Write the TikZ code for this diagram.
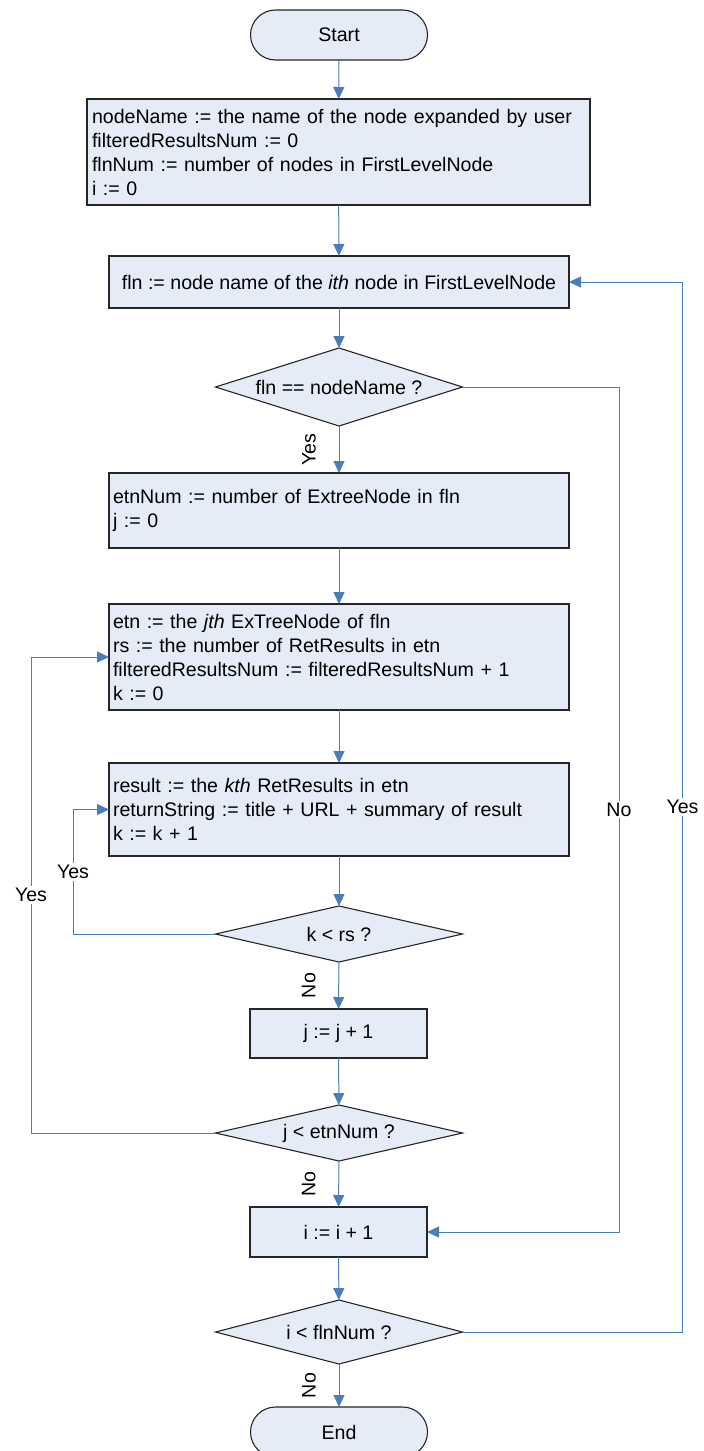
\documentclass[tikz,border=0pt]{standalone}
\usepackage{fontspec}
\setmainfont{Liberation Sans}
\usetikzlibrary{shapes.geometric,arrows.meta}
\definecolor{boxfill}{HTML}{E6ECF7}
\definecolor{flowline}{HTML}{4A7EBB}
\definecolor{edge}{HTML}{262626}
\begin{document}
\begin{tikzpicture}[x=1pt,y=-1pt,
  font=\fontsize{19.6}{24}\selectfont,
  every node/.style={inner sep=0pt, outer sep=0pt},
  shapebase/.style={draw=edge, fill=boxfill, line width=1.1pt},
  term/.style={shapebase, rectangle, rounded corners=25pt, minimum width=177pt, minimum height=50pt},
  proc/.style={shapebase, rectangle},
  smallproc/.style={proc, minimum width=177pt},
  wideproc/.style={proc, minimum width=460pt},
  listproc/.style={proc, minimum width=460pt, text width=452pt, inner xsep=4pt, align=left},
  dec/.style={shapebase, diamond, shape aspect=3.5, minimum width=247pt},
  flow/.style={draw=flowline, line width=1pt, -{Triangle[length=12pt,width=11pt]}},
  vlab/.style={midway, xshift=-30pt, rotate=90},
  hlab/.style={pos=0.25, fill=white, inner sep=2pt}
]
\useasboundingbox (0,0) rectangle (704,1451);
\clip (0,0) rectangle (704,1451);

% main column
\node[term] (start) at (339,35) {Start};
\node[proc, minimum width=503pt, minimum height=106pt, text width=493pt,
      inner xsep=5pt, align=left] (init) at (338.5,152)
  {nodeName := the name of the node expanded by user\\
   filteredResultsNum := 0\\
   flnNum := number of nodes in FirstLevelNode\\
   i := 0};
\node[wideproc, minimum height=52pt] (fln) at (339,282)
  {fln := node name of the \textit{ith} node in FirstLevelNode};
\node[dec, minimum height=78pt] (d1) at (339,387) {fln == nodeName ?};
\node[listproc, minimum height=75pt] (etnum) at (339,510.5)
  {etnNum := number of ExtreeNode in fln\\
   j := 0};
\node[listproc, minimum height=106pt] (etn) at (339,657)
  {etn := the \textit{jth} ExTreeNode of fln\\
   rs := the number of RetResults in etn\\
   filteredResultsNum := filteredResultsNum + 1\\
   k := 0};
\node[listproc, minimum height=93pt] (res) at (339,809.5)
  {result := the \textit{kth} RetResults in etn\\
   returnString := title + URL + summary of result\\
   k := k + 1};
\node[dec, minimum height=56pt] (d2) at (339,934) {k < rs ?};
\node[smallproc, minimum height=49pt] (jinc) at (338.5,1033.5) {j := j + 1};
\node[dec, minimum height=56pt] (d3) at (339,1133) {j < etnNum ?};
\node[smallproc, minimum height=50pt] (iinc) at (338.5,1232) {i := i + 1};
\node[dec, minimum height=64pt] (d4) at (339,1332) {i < flnNum ?};
\node[term] (end) at (339,1432) {End};

% straight connectors
\draw[flow] (start) -- (init);
\draw[flow] (init) -- (fln);
\draw[flow] (fln) -- (d1);
\draw[flow] (d1) -- node[vlab]{Yes} (etnum);
\draw[flow] (etnum) -- (etn);
\draw[flow] (etn) -- (res);
\draw[flow] (res) -- (d2);
\draw[flow] (d2) -- node[vlab]{No} (jinc);
\draw[flow] (jinc) -- (d3);
\draw[flow] (d3) -- node[vlab]{No} (iinc);
\draw[flow] (iinc) -- (d4);
\draw[flow] (d4) -- node[vlab]{No} (end);

% loop-back connectors
\draw[flow] (d1.east) -- ++(156.5,0) |- node[hlab]{No} (iinc.east);
\draw[flow] (d4.east) -- ++(220,0) |- node[hlab]{Yes} (fln.east);
\draw[flow] (d3.west) -- ++(-184.5,0) |- node[hlab]{Yes} (etn.west);
\draw[flow] (d2.west) -- ++(-142.5,0) |- node[hlab]{Yes} (res.west);
\end{tikzpicture}
\end{document}
